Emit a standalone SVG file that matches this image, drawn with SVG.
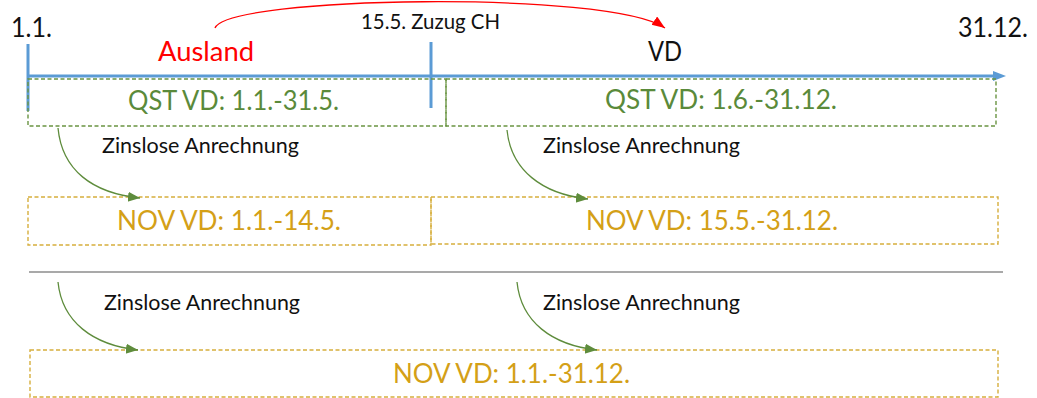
<svg xmlns="http://www.w3.org/2000/svg" width="1037" height="398" viewBox="0 0 1037 398">
<style>
text{font-family:Lato,"Liberation Sans",sans-serif}
.big{font-size:26px}
.lbl{font-size:21px;fill:#111}
.qst{fill:none;stroke:#6A9442;stroke-width:1.4;stroke-dasharray:4 2.5}
.nov{fill:none;stroke:#D6AE3C;stroke-width:1.4;stroke-dasharray:4 2.5}
.qt{fill:#5A8A3A}
.nt{fill:#D4A017}
.garr{fill:none;stroke:#5E8C3C;stroke-width:1.3;marker-end:url(#ga)}
.tl{stroke:#5B9BD5;stroke-width:3}
</style>
<defs>
<marker id="ga" markerUnits="userSpaceOnUse" markerWidth="14" markerHeight="12" refX="12" refY="5" orient="auto">
<path d="M0,0 L12,5 L0,10 Z" fill="#5E8C3C"/>
</marker>
<marker id="ra" markerUnits="userSpaceOnUse" markerWidth="16" markerHeight="12" refX="13" refY="5" orient="auto">
<path d="M0,0 L13,5 L0,10 Z" fill="#FF0000"/>
</marker>
</defs>
<rect width="1037" height="398" fill="#fff"/>

<g id="timeline">
<line class="tl" x1="27" y1="76" x2="995" y2="76"/>
<path d="M993,71 L1006,76 L993,81 Z" fill="#5B9BD5"/>
<line class="tl" x1="28" y1="44" x2="28" y2="111"/>
<line class="tl" x1="431" y1="42" x2="431" y2="108"/>
</g>

<g id="labels-top">
<text class="big" x="11" y="37" textLength="41" lengthAdjust="spacingAndGlyphs" fill="#111">1.1.</text>
<text class="big" x="158" y="61" textLength="96" lengthAdjust="spacingAndGlyphs" fill="#FF0000">Ausland</text>
<text class="lbl" x="361" y="29" textLength="139" lengthAdjust="spacingAndGlyphs">15.5. Zuzug CH</text>
<text class="big" x="648" y="61" textLength="34" lengthAdjust="spacingAndGlyphs" fill="#111">VD</text>
<text class="big" x="958" y="37" textLength="70" lengthAdjust="spacingAndGlyphs" fill="#111">31.12.</text>
</g>

<g id="qst-left">
<rect class="qst" x="28" y="79" width="418" height="47"/>
<text class="big qt" x="128" y="110" textLength="211" lengthAdjust="spacingAndGlyphs">QST VD: 1.1.-31.5.</text>
</g>
<g id="qst-right">
<rect class="qst" x="446" y="79" width="550" height="47"/>
<text class="big qt" x="605" y="109" textLength="232" lengthAdjust="spacingAndGlyphs">QST VD: 1.6.-31.12.</text>
</g>

<g id="nov-left">
<rect class="nov" x="28" y="197" width="403" height="48"/>
<text class="big nt" x="117" y="230" textLength="224" lengthAdjust="spacingAndGlyphs">NOV VD: 1.1.-14.5.</text>
</g>
<g id="nov-right">
<rect class="nov" x="431" y="197" width="567" height="47"/>
<text class="big nt" x="586" y="230" textLength="252" lengthAdjust="spacingAndGlyphs">NOV VD: 15.5.-31.12.</text>
</g>

<g id="separator">
<line x1="29" y1="272" x2="1003" y2="272" stroke="#8C8C8C" stroke-width="1.5"/>
</g>

<g id="nov-full">
<rect class="nov" x="30" y="350" width="968" height="47"/>
<text class="big nt" x="393" y="383" textLength="237" lengthAdjust="spacingAndGlyphs">NOV VD: 1.1.-31.12.</text>
</g>

<g id="connectors">
<path d="M215,28 C226,-4 610,-10 665,28" fill="none" stroke="#FF0000" stroke-width="1.3" marker-end="url(#ra)"/>
<path class="garr" d="M58,128 C62,170 92,193 140,198"/>
<path class="garr" d="M507,130 C511,170 542,194 588,199"/>
<path class="garr" d="M58,282 C62,322 93,345 138,350"/>
<path class="garr" d="M517,282 C521,322 552,345 597,350"/>
<text class="lbl" x="102" y="153" textLength="197" lengthAdjust="spacingAndGlyphs">Zinslose Anrechnung</text>
<text class="lbl" x="543" y="153" textLength="197" lengthAdjust="spacingAndGlyphs">Zinslose Anrechnung</text>
<text class="lbl" x="104" y="310" textLength="196" lengthAdjust="spacingAndGlyphs">Zinslose Anrechnung</text>
<text class="lbl" x="543" y="310" textLength="197" lengthAdjust="spacingAndGlyphs">Zinslose Anrechnung</text>
</g>
</svg>
